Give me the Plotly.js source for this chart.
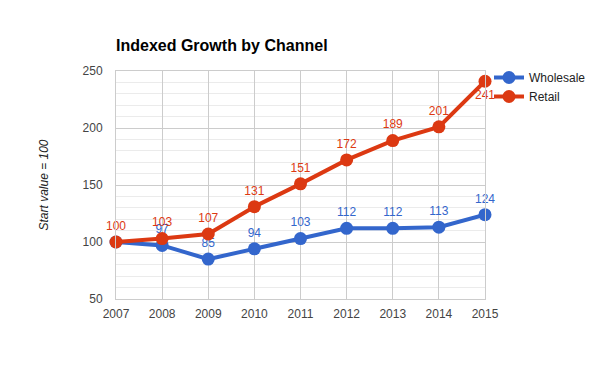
<!DOCTYPE html>
<html>
<head>
<meta charset="utf-8">
<script src="https://cdn.plot.ly/plotly-3.0.1.min.js"></script>
<style>html,body{margin:0;padding:0;background:#fff;}#chart{width:600px;height:371px;}</style>
</head>
<body>
<div id="chart"></div>
<script>
const years = [2007, 2008, 2009, 2010, 2011, 2012, 2013, 2014, 2015];
const wholesale = [100, 97, 85, 94, 103, 112, 112, 113, 124];
const retail = [100, 103, 107, 131, 151, 172, 189, 201, 241];
const yTicks = [50, 100, 150, 200, 250];

const FONT = 'Arial, "Liberation Sans", sans-serif';
const BLUE = '#3366cc';
const RED = '#dc3912';

const wholesaleText = wholesale.map((v, i) => i === 0 ? '' : String(v));
const retailText = retail.map(v => String(v));
const retailPos = retail.map((v, i) => i === retail.length - 1 ? 'bottom center' : 'top center');

const traces = [
  {
    x: years, y: wholesale, name: 'Wholesale', type: 'scatter', mode: 'lines+markers+text',
    line: {color: BLUE, width: 4}, marker: {color: BLUE, size: 13},
    text: wholesaleText, textposition: 'top center',
    textfont: {family: FONT, size: 12, color: BLUE}, cliponaxis: false, hoverinfo: 'none'
  },
  {
    x: years, y: retail, name: 'Retail', type: 'scatter', mode: 'lines+markers+text',
    line: {color: RED, width: 4}, marker: {color: RED, size: 13},
    text: retailText, textposition: retailPos,
    textfont: {family: FONT, size: 12, color: RED}, cliponaxis: false, hoverinfo: 'none'
  }
];

const layout = {
  width: 600, height: 371,
  margin: {l: 115.5, r: 115, t: 71, b: 72, autoexpand: false},
  paper_bgcolor: '#fff', plot_bgcolor: '#fff',
  font: {family: FONT, size: 12, color: '#444'},
  title: {
    text: '<b>Indexed Growth by Channel</b>',
    font: {family: FONT, size: 16, color: '#000'},
    xref: 'paper', x: 0, xanchor: 'left',
    yref: 'container', y: 1 - 45 / 371, yanchor: 'middle'
  },
  xaxis: {
    range: [2007, 2015], tickmode: 'array', tickvals: years, ticktext: years.map(String),
    showgrid: true, gridcolor: '#ccc', gridwidth: 1, zeroline: false,
    showline: true, linecolor: '#ccc', linewidth: 1, mirror: true,
    ticks: '', ticklabelstandoff: 4,
    tickfont: {family: FONT, size: 12, color: '#444'}
  },
  yaxis: {
    range: [50, 250], tickmode: 'array', tickvals: yTicks, ticktext: yTicks.map(String),
    showgrid: true, gridcolor: '#ccc', gridwidth: 1, zeroline: false,
    showline: true, linecolor: '#ccc', linewidth: 1, mirror: true,
    minor: {dtick: 10, showgrid: true, gridcolor: '#ebebeb', gridwidth: 1, ticks: ''},
    ticks: '', ticklabelstandoff: 10,
    tickfont: {family: FONT, size: 12, color: '#444'},
    title: {text: '<i>Start value = 100</i>', font: {family: FONT, size: 12, color: '#222'}, standoff: 31}
  },
  showlegend: true,
  legend: {
    xref: 'container', x: 489 / 600, xanchor: 'left',
    yref: 'container', y: 1 - 63 / 371, yanchor: 'top',
    font: {family: FONT, size: 12, color: '#222'},
    bgcolor: 'rgba(0,0,0,0)', itemwidth: 30, tracegroupgap: 0
  }
};

Plotly.newPlot('chart', traces, layout, {displayModeBar: false, staticPlot: true});
</script>
</body>
</html>
